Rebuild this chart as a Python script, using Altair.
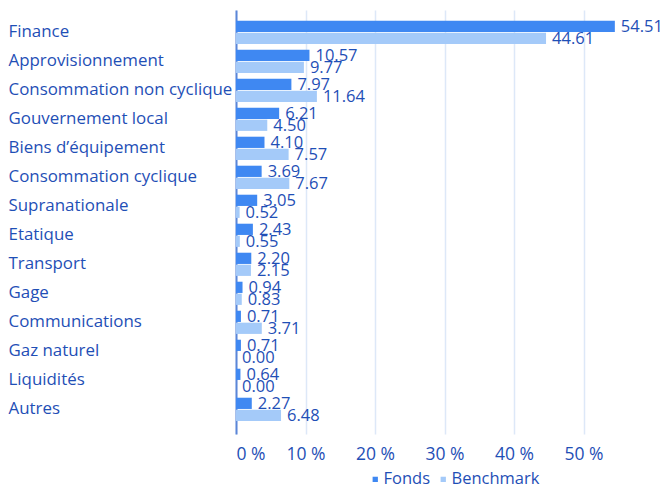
import altair as alt
import pandas as pd

categories = ["Finance", "Approvisionnement", "Consommation non cyclique", "Gouvernement local",
              "Biens d’équipement", "Consommation cyclique", "Supranationale", "Etatique",
              "Transport", "Gage", "Communications", "Gaz naturel", "Liquidités", "Autres"]
fonds = [54.51, 10.57, 7.97, 6.21, 4.10, 3.69, 3.05, 2.43, 2.20, 0.94, 0.71, 0.71, 0.64, 2.27]
benchmark = [44.61, 9.77, 11.64, 4.50, 7.57, 7.67, 0.52, 0.55, 2.15, 0.83, 3.71, 0.00, 0.00, 6.48]
series = ["Fonds", "Benchmark"]
x_ticks = [0, 10, 20, 30, 40, 50]

rows = []
for c, f, b in zip(categories, fonds, benchmark):
    rows.append({"cat": c, "series": "Fonds", "value": f})
    rows.append({"cat": c, "series": "Benchmark", "value": b})
df = pd.DataFrame(rows)

TXT = "#1f4fb6"
FONT = "Open Sans"

y = alt.Y("cat:N", sort=categories, title=None,
          scale=alt.Scale(paddingInner=0.2, paddingOuter=0.41, align=0.45),
          axis=alt.Axis(labelAlign="left", labelPadding=228, ticks=False, labelFontSize=16.9,
                        labelColor=TXT, labelFont=FONT, domainColor="#5b86d8", domainWidth=2,
                        labelLimit=300))
yoff = alt.YOffset("series:N", sort=series, scale=alt.Scale(paddingInner=0.06))
x = alt.X("value:Q", title=None,
          scale=alt.Scale(domain=[0, 60], nice=False),
          axis=alt.Axis(values=x_ticks, labelExpr="datum.value + ' %'", labelFontSize=17.5,
                        labelColor=TXT, labelFont=FONT, domain=False, ticks=False,
                        labelPadding=11, gridColor="#dde8f8", gridWidth=1.5))
color = alt.Color("series:N", sort=series,
                  scale=alt.Scale(domain=series, range=["#3f88f2", "#a4caf9"]),
                  legend=alt.Legend(orient="none", legendX=131, legendY=461,
                                    direction="horizontal", title=None,
                                    symbolType="square", symbolSize=28, labelFontSize=16.5,
                                    labelColor=TXT, labelFont=FONT, columnPadding=4,
                                    labelOffset=0, symbolStrokeWidth=0))

base = alt.Chart(df).encode(y=y, yOffset=yoff, x=x)
bars = base.mark_bar().encode(color=color)
labels = base.mark_text(align="left", baseline="middle", dx=6, dy=1, fontSize=16.5,
                        font=FONT, color=TXT).encode(text=alt.Text("value:Q", format=".2f"))

chart = (bars + labels).properties(
    width=417, height=424,
    autosize=alt.AutoSizeParams(type="none"),
    padding={"left": 228, "top": 2, "right": 10, "bottom": 54},
).configure_view(stroke=None).configure_axisY(grid=False)

chart.save("out.html", embed_options={"renderer": "svg", "actions": False})
